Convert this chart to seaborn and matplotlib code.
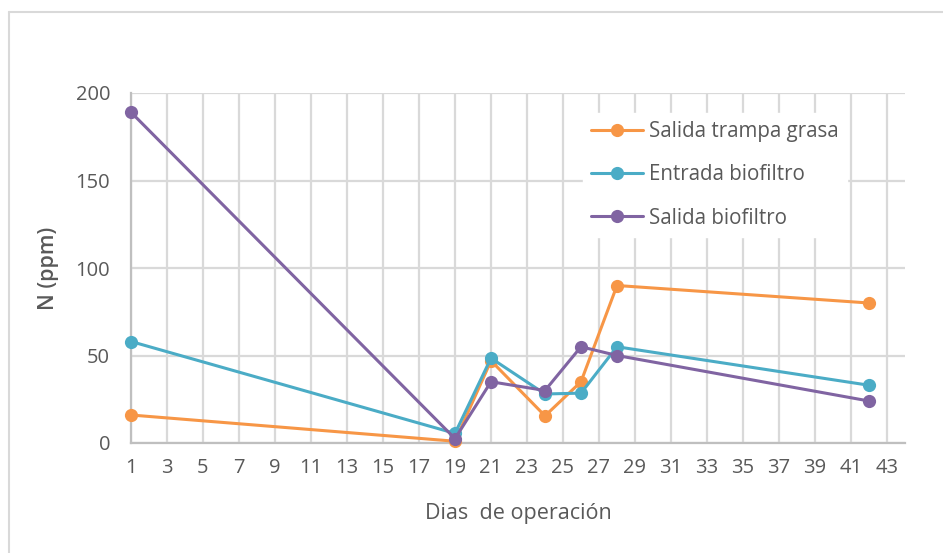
import numpy as np
import pandas as pd
import seaborn as sns
import matplotlib.pyplot as plt
from matplotlib.lines import Line2D

# days of operation (x) and nitrogen readings per sampling point
dias = [1, 19, 21, 24, 26, 28, 42]
series = ["Salida trampa grasa", "Entrada biofiltro", "Salida biofiltro"]
salida_trampa = [16, 1, 47, 15.5, 35, 90, 80]
entrada_bio = [58, 5.5, 48.5, 28, 28.5, 55, 33]
salida_bio = [189, 2.5, 35, 30, 55, 50, 24]
colores = ["#F79646", "#4BACC6", "#8064A2"]

yticks = [0, 50, 100, 150, 200]
xticks = list(range(1, 44, 2))

df = pd.DataFrame({
    "dia": dias * 3,
    "N": salida_trampa + entrada_bio + salida_bio,
    "serie": np.repeat(series, len(dias)),
})

sns.set_theme(style="white")
plt.rcParams["font.family"] = ["Open Sans", "DejaVu Sans"]
txt = "#595959"
grid = "#D9D9D9"

fig = plt.figure(figsize=(9.43, 5.53), dpi=100)
ax = fig.add_axes([131 / 943, 1 - 443 / 553, 774 / 943, 350 / 553])

sns.lineplot(data=df, x="dia", y="N", hue="serie", hue_order=series,
             palette=colores, marker="o", markersize=9.5, markeredgewidth=0,
             linewidth=2.2, sort=False, ax=ax, zorder=3, clip_on=False)

ax.set_xlim(1, 44)
ax.set_ylim(0, 200)
ax.set_xticks(xticks)
ax.set_yticks(yticks)
ax.grid(True, color=grid, linewidth=1.6)
ax.set_axisbelow(True)
for s in ["top", "right"]:
    ax.spines[s].set_visible(False)
for s in ["left", "bottom"]:
    ax.spines[s].set_color("#BFBFBF")
    ax.spines[s].set_linewidth(1.6)
ax.tick_params(axis="both", length=0, labelsize=14.5, labelcolor=txt)
ax.tick_params(axis="y", pad=15)
ax.tick_params(axis="x", pad=11)
ax.set_xlabel("Dias  de operación", fontsize=15.5, color=txt, labelpad=18)
ax.set_ylabel("N (ppm)", fontsize=15.5, color=txt, fontweight="semibold", labelpad=12)

leg = ax.legend(loc="upper left", bbox_to_anchor=(583 / 943, 1 - 113 / 553),
                bbox_transform=fig.transFigure, frameon=True, fontsize=14.8,
                handlelength=2.5, handletextpad=0.3, labelspacing=1.08,
                borderpad=0.4, borderaxespad=0)
leg.get_frame().set_facecolor("white")
leg.get_frame().set_edgecolor("white")
leg.get_frame().set_alpha(1)
for t in leg.get_texts():
    t.set_color(txt)

# chart area border (only left and top edges fall inside the picture)
fig.add_artist(Line2D([9 / 943, 9 / 943], [0, 1 - 12 / 553], color=grid, linewidth=1.5))
fig.add_artist(Line2D([9 / 943, 1], [1 - 12 / 553, 1 - 12 / 553], color=grid, linewidth=1.5))

fig.savefig("out.png", dpi=100)
